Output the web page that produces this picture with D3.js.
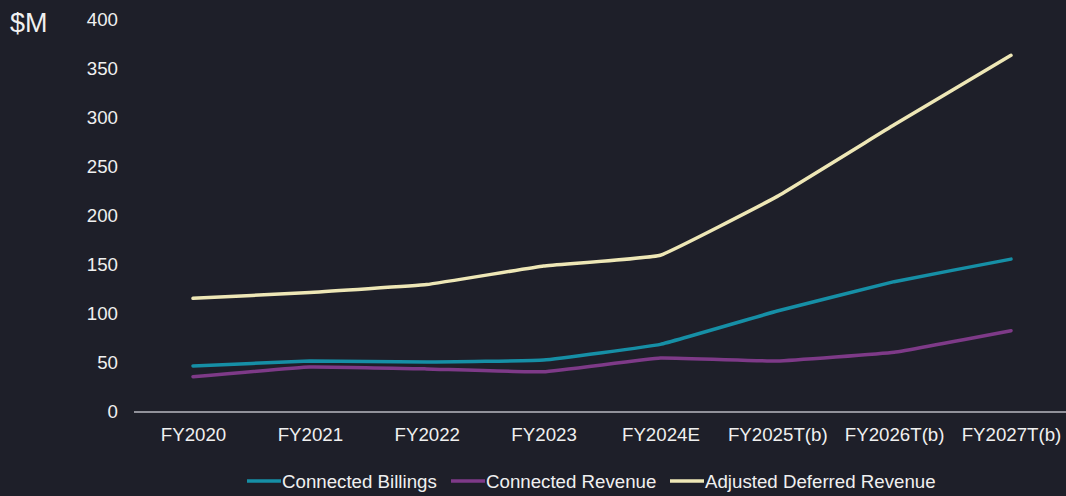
<!DOCTYPE html>
<html>
<head>
<meta charset="utf-8">
<script src="https://cdn.jsdelivr.net/npm/d3@7"></script>
<style>
  body { margin: 0; background: #1e1f29; }
  svg { display: block; font-family: "Liberation Sans", Arial, sans-serif; }
</style>
</head>
<body>
<div id="chart"></div>
<script>
// data
var years = ["FY2020", "FY2021", "FY2022", "FY2023", "FY2024E", "FY2025T(b)", "FY2026T(b)", "FY2027T(b)"];
var connectedBillings = [47, 52, 51, 53, 69, 103, 133, 156];
var connectedRevenue = [36, 46, 44, 41, 55, 52, 61, 83];
var adjustedDeferred = [116, 122, 130, 149, 160, 220, 293, 364];
var yTicks = [0, 50, 100, 150, 200, 250, 300, 350, 400];

var series = [
  { name: "Connected Billings", values: connectedBillings, color: "#168fa6" },
  { name: "Connected Revenue", values: connectedRevenue, color: "#7e3a88" },
  { name: "Adjusted Deferred Revenue", values: adjustedDeferred, color: "#eee7b6" }
];

var W = 1066, H = 496;
var margin = { top: 20, right: 0, bottom: 84, left: 134 };
var textColor = "#f0f0f0";
var fontSize = "18.7px";

var svg = d3.select("#chart").append("svg")
    .attr("width", W)
    .attr("height", H);

svg.append("rect").attr("width", W).attr("height", H).attr("fill", "#1e1f29");

var x = d3.scalePoint()
    .domain(years)
    .range([193, 1011]);

var y = d3.scaleLinear()
    .domain([0, 400])
    .range([412, 20]);

// y tick labels
svg.append("g")
    .attr("transform", "translate(118,0)")
    .call(d3.axisLeft(y).tickValues(yTicks).tickSize(0).tickPadding(0))
    .call(function(g) { g.select(".domain").remove(); })
    .selectAll("text")
    .attr("fill", textColor)
    .style("font-size", fontSize);

// x axis line
svg.append("line")
    .attr("x1", margin.left).attr("x2", W)
    .attr("y1", y(0)).attr("y2", y(0))
    .attr("stroke", "#b9b9c0")
    .attr("stroke-width", 1.5);

// x labels
svg.append("g")
    .attr("transform", "translate(0," + y(0) + ")")
    .call(d3.axisBottom(x).tickSize(0).tickPadding(16))
    .call(function(g) { g.select(".domain").remove(); })
    .selectAll("text")
    .attr("fill", textColor)
    .style("font-size", fontSize);

// unit label
svg.append("text")
    .attr("x", 10).attr("y", 32)
    .attr("fill", textColor)
    .style("font-size", "27px")
    .text("$M");

var line = d3.line()
    .x(function(d, i) { return x(years[i]); })
    .y(function(d) { return y(d); })
    .curve(d3.curveCardinal.tension(0.75));

svg.selectAll(".series")
    .data(series)
    .enter().append("path")
    .attr("class", "series")
    .attr("fill", "none")
    .attr("stroke", function(d) { return d.color; })
    .attr("stroke-width", 3.5)
    .attr("stroke-linecap", "round")
    .attr("stroke-linejoin", "round")
    .attr("d", function(d) { return line(d.values); });

// legend
var legendX = [247, 451, 670];
var legend = svg.selectAll(".legend")
    .data(series)
    .enter().append("g")
    .attr("class", "legend")
    .attr("transform", function(d, i) { return "translate(" + legendX[i] + ",481)"; });

legend.append("line")
    .attr("x1", 0).attr("x2", 34)
    .attr("stroke", function(d) { return d.color; })
    .attr("stroke-width", 3.5);

legend.append("text")
    .attr("x", 35).attr("y", 6.5)
    .attr("fill", textColor)
    .style("font-size", fontSize)
    .text(function(d) { return d.name; });
</script>
</body>
</html>
